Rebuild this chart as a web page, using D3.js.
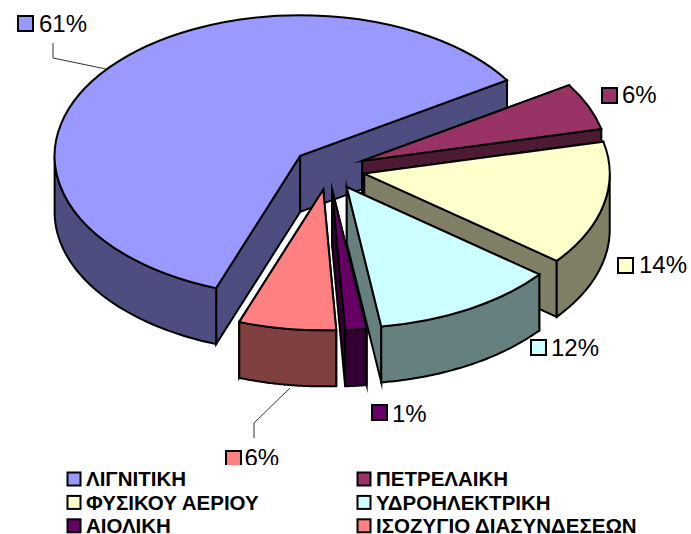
<!DOCTYPE html>
<html>
<head>
<meta charset="utf-8">
<script src="https://cdn.jsdelivr.net/npm/d3@7"></script>
<style>
  html, body { margin: 0; padding: 0; background: #fff; }
  svg { display: block; }
  text { font-family: "Liberation Sans", Arial, sans-serif; fill: #000; }
</style>
</head>
<body>
<div id="wrapper"></div>
<script>
// slice sizes (percent), labels as printed on it
const categories = ["ΛΙΓΝΙΤΙΚΗ", "ΠΕΤΡΕΛΑΙΚΗ", "ΦΥΣΙΚΟΥ ΑΕΡΙΟΥ", "ΥΔΡΟΗΛΕΚΤΡΙΚΗ", "ΑΙΟΛΙΚΗ", "ΙΣΟΖΥΓΙΟ ΔΙΑΣΥΝΔΕΣΕΩΝ"];
const shares = [60.4, 5.4, 14.3, 12.1, 1.4, 6.4];
const percentLabels = ["61%", "6%", "14%", "12%", "1%", "6%"];
const topColors = ["#9999ff", "#993366", "#ffffcc", "#ccffff", "#660066", "#ff8080"];
const sideColors = ["#4d4d80", "#4d1a33", "#808066", "#668080", "#330033", "#804040"];

// painter's order, back to front
const drawOrder = [0, 1, 2, 3, 5, 4];

// where each percent label sits: key box corner, text start
const labelSpots = [
  { kx: 18, ky: 16, tx: 39, ty: 32 },
  { kx: 602, ky: 88, tx: 622, ty: 103 },
  { kx: 618, ky: 258, tx: 639, ty: 273 },
  { kx: 531, ky: 340, tx: 551, ty: 356 },
  { kx: 372, ky: 405, tx: 392, ty: 422 },
  { kx: 226, ky: 451, tx: 244.5, ty: 466 }
];
const leaders = [
  [[53, 43], [53, 58], [106, 69]],
  [[254, 438], [254, 423], [290, 388]]
];

const width = 691;
const height = 534;
const cx = 328.6;
const cy = 169;
const radius = 245.5;
const tilt = 0.573;
const explode = 36.5;
const depth = 56;
const startDeg = 200;

const svg = d3.select("#wrapper")
  .append("svg")
  .attr("width", width)
  .attr("height", height);

const pie = d3.pie()
  .sort(null)
  .startAngle(startDeg * Math.PI / 180)
  .endAngle((startDeg + 360) * Math.PI / 180);

const slices = pie(shares);
const arcGen = d3.arc().innerRadius(0).outerRadius(radius);
const lineGen = d3.line();

// slice point in screen space; angle is clockwise from the top like d3.arc
const project = (a, r, apex, down) => [
  apex[0] + r * Math.sin(a),
  apex[1] - r * Math.cos(a) * tilt + down
];

const apexOf = d => {
  const mid = (d.startAngle + d.endAngle) / 2;
  return [cx + explode * Math.sin(mid), cy - explode * Math.cos(mid) * tilt];
};

const wall = (a, apex) => lineGen([
  project(a, 0, apex, 0),
  project(a, radius, apex, 0),
  project(a, radius, apex, depth),
  project(a, 0, apex, depth)
]) + "Z";

// outer side of a slice, only the part that faces the viewer.
// pie angles run past 2pi here so check the front half on both turns
const rim = (d, apex) => {
  let out = "";
  [0, Math.PI * 2].forEach(turn => {
    const lo = Math.max(d.startAngle, Math.PI / 2 + turn);
    const hi = Math.min(d.endAngle, Math.PI * 1.5 + turn);
    if (hi <= lo) return;
    const steps = d3.range(0, 61).map(i => lo + (hi - lo) * i / 60);
    const upper = steps.map(a => project(a, radius, apex, 0));
    const lower = steps.slice().reverse().map(a => project(a, radius, apex, depth));
    out += lineGen(upper.concat(lower)) + "Z";
  });
  return out;
};

const solids = svg.append("g")
  .attr("stroke", "#000")
  .attr("stroke-width", 2)
  .attr("stroke-linejoin", "miter")
  .attr("stroke-miterlimit", 10);

drawOrder.forEach(i => {
  const d = slices[i];
  const apex = apexOf(d);
  const g = solids.append("g");

  [d.startAngle, d.endAngle].forEach(a => {
    g.append("path").attr("d", wall(a, apex)).attr("fill", sideColors[i]);
  });

  const rimPath = rim(d, apex);
  if (rimPath) g.append("path").attr("d", rimPath).attr("fill", sideColors[i]);

  g.append("path")
    .attr("d", arcGen(d))
    .attr("transform", `translate(${apex[0]},${apex[1]}) scale(1,${tilt})`)
    .attr("vector-effect", "non-scaling-stroke")
    .attr("fill", topColors[i]);
});

// leader lines
svg.append("g")
  .selectAll("path")
  .data(leaders)
  .join("path")
  .attr("d", d => lineGen(d))
  .attr("fill", "none")
  .attr("stroke", "#333")
  .attr("stroke-width", 1);

// percent labels
const labels = svg.append("g");
percentLabels.forEach((label, i) => {
  const spot = labelSpots[i];
  labels.append("rect")
    .attr("x", spot.kx)
    .attr("y", spot.ky)
    .attr("width", 15)
    .attr("height", 15)
    .attr("fill", topColors[i])
    .attr("stroke", "#000")
    .attr("stroke-width", 2);
  labels.append("text")
    .attr("x", spot.tx)
    .attr("y", spot.ty)
    .style("font-size", "24px")
    .text(label);
});

// the legend box is opaque and cuts off the bottom of the lowest label
const legendX = d3.scaleOrdinal().domain([0, 1]).range([67.5, 357.5]);
const legendY = d3.scaleBand().domain([0, 1, 2]).range([467.3, 537.5]);

const legend = svg.append("g");
legend.append("rect")
  .attr("x", 60)
  .attr("y", 465)
  .attr("width", 600)
  .attr("height", 69)
  .attr("fill", "#fff");

categories.forEach((name, i) => {
  const col = i % 2;
  const row = Math.floor(i / 2);
  const y = legendY(row) + legendY.bandwidth() / 2;
  legend.append("rect")
    .attr("x", legendX(col))
    .attr("y", y - 6.5)
    .attr("width", 13)
    .attr("height", 13)
    .attr("fill", topColors[i])
    .attr("stroke", "#000")
    .attr("stroke-width", 2);
  legend.append("text")
    .attr("x", legendX(col) + 18.5)
    .attr("y", y + 7.2)
    .style("font-size", "20.5px")
    .style("font-weight", "bold")
    .text(name);
});
</script>
</body>
</html>
